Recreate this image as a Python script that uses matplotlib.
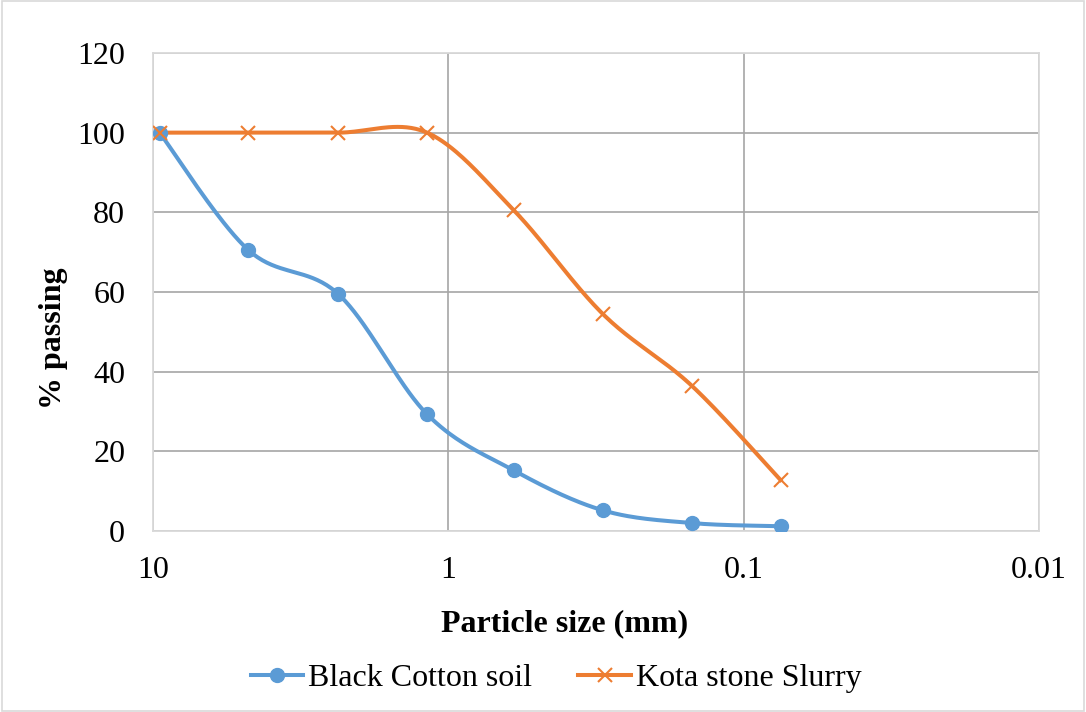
import numpy as np
import matplotlib.pyplot as plt

# sieve sizes (mm) and percent passing
sieve_mm = [9.5, 4.75, 2.36, 1.18, 0.6, 0.3, 0.15, 0.075]
bc_soil = [100, 70.5, 59.5, 29.3, 15.2, 5.2, 2.0, 1.2]
kota_slurry = [100, 100, 100, 100, 80.5, 54.5, 36.5, 12.8]

blue = '#5B9BD5'
orange = '#ED7D31'

plt.rcParams['font.family'] = ['Liberation Serif', 'DejaVu Serif']


def smooth_curve(x, y, sx=294.5, sy=3.99, n=40):
    # bezier smoothing done in screen-like units (log x), like a spreadsheet "smoothed line"
    u = np.log10(np.asarray(x, float)) * sx
    v = np.asarray(y, float) * sy
    P = np.column_stack([u, v])
    out = []
    m = len(P)
    for i in range(m - 1):
        p0 = P[i - 1] if i > 0 else P[i]
        p1 = P[i]
        p2 = P[i + 1]
        p3 = P[i + 2] if i + 2 < m else P[i + 1]
        c1 = p1 + (p2 - p0) / 6.0
        c2 = p2 - (p3 - p1) / 6.0
        t = np.linspace(0, 1, n)[:, None]
        seg = ((1 - t) ** 3) * p1 + 3 * ((1 - t) ** 2) * t * c1 + 3 * (1 - t) * t ** 2 * c2 + t ** 3 * p2
        out.append(seg if i == 0 else seg[1:])
    seg = np.vstack(out)
    return 10 ** (seg[:, 0] / sx), seg[:, 1] / sy


fig = plt.figure(figsize=(10.86, 7.12), dpi=100)
ax = fig.add_axes([0.1409, 0.2542, 0.8158, 0.6714])

xs, ys = smooth_curve(sieve_mm, bc_soil)
ax.plot(xs, ys, color=blue, lw=2.9, zorder=3)
ax.plot(sieve_mm, bc_soil, 'o', color=blue, ms=10, zorder=4)

xs, ys = smooth_curve(sieve_mm, kota_slurry)
ax.plot(xs, ys, color=orange, lw=2.9, zorder=3)
ax.plot(sieve_mm, kota_slurry, 'x', color=orange, ms=10, mew=1.5, zorder=4)

ax.set_xscale('log')
ax.set_xlim(10, 0.01)
ax.set_ylim(0, 120)
ax.set_yticks(range(0, 121, 20))
ax.set_xticks([10, 1, 0.1, 0.01])
ax.set_xticklabels(['10', '1', '0.1', '0.01'])
ax.minorticks_off()
ax.tick_params(length=0, labelsize=23)
ax.tick_params(axis='x', pad=18)
ax.tick_params(axis='y', pad=20)
ax.grid(True, color='#a6a6a6', lw=1.2, zorder=0)
for s in ax.spines.values():
    s.set_color('#d9d9d9')
    s.set_linewidth(1.3)

ax.set_xlabel('Particle size (mm)', fontsize=23, fontweight='bold')
ax.set_ylabel('% passing', fontsize=23, fontweight='bold')
ax.xaxis.set_label_coords(0.464, -0.163)
ax.yaxis.set_label_coords(-0.096, 0.404)

h1, = ax.plot([], [], '-o', color=blue, lw=2.9, ms=10)
h2, = ax.plot([], [], '-x', color=orange, lw=2.9, ms=10, mew=1.5)
fig.legend([h1, h2], ['Black Cotton soil', 'Kota stone Slurry'], loc='center',
           bbox_to_anchor=(0.512, 0.047), ncol=2, frameon=False, fontsize=23,
           handlelength=1.65, columnspacing=1.45, handletextpad=0.15)

# light chart-area border
fig.patches.append(plt.Rectangle((0.002, 0.002), 0.996, 0.996, transform=fig.transFigure,
                                 fill=False, edgecolor='#d9d9d9', lw=1.2))

fig.savefig('out.png', dpi=100)
